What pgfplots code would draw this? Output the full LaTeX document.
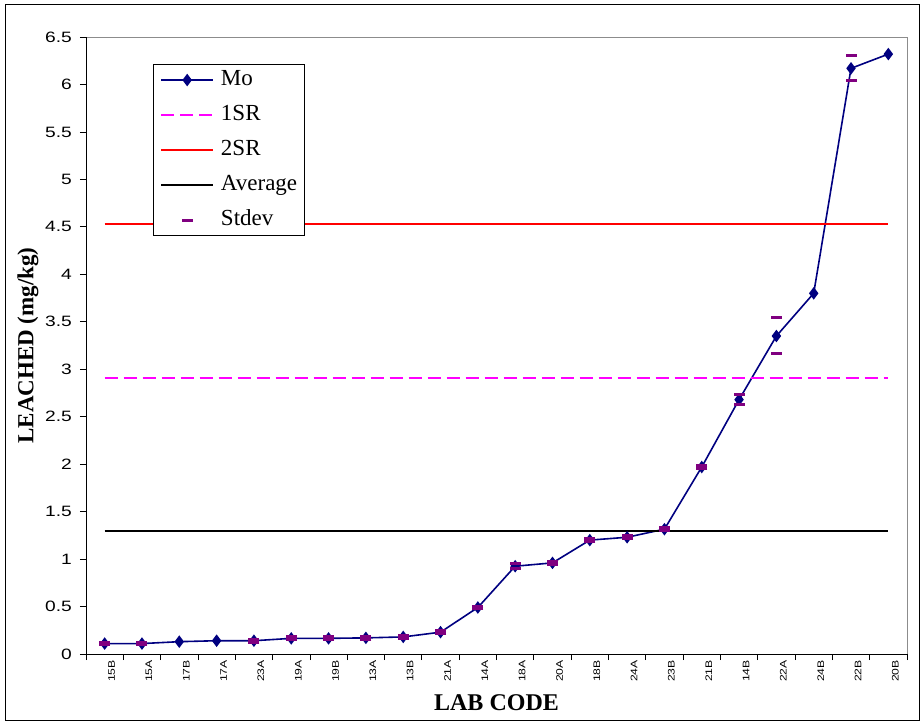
\documentclass[border=0pt]{standalone}
\usepackage{pgfplots}
\pgfplotsset{compat=1.18}
\usepackage{fontspec}
\setmainfont{Liberation Serif}
\newfontfamily\tickfont[FakeStretch=1.28]{Liberation Sans}
\definecolor{moblue}{HTML}{000080}
\definecolor{sdpurple}{HTML}{800080}
\definecolor{srmag}{HTML}{FF00FF}
\pgfplotsset{mylegimg/.style={legend image code/.code={\draw[mark repeat=2,mark phase=2,##1] plot coordinates {(0pt,0pt) (26pt,0pt) (52pt,0pt)};}}}
\begin{document}
\begin{tikzpicture}
\useasboundingbox (0pt,0pt) rectangle (923pt,-724pt);
\draw[line width=1pt] (5pt,-4pt) rectangle (919pt,-720pt);
\draw[black!45, line width=1pt] (86pt,-37pt) -- (907pt,-37pt) -- (907pt,-654pt);
\begin{axis}[
  at={(86pt,-654pt)}, anchor=south west,
  scale only axis, width=821pt, height=617pt,
  xmin=-0.5, xmax=21.5, ymin=0, ymax=6.5,
  axis x line*=bottom, axis y line*=left,
  axis line style={black, line width=0.8pt},
  ytick={0,0.5,...,6.5},
  yticklabels={0,0.5,1,1.5,2,2.5,3,3.5,4,4.5,5,5.5,6,6.5},
  xtick={0,...,21},
  xticklabels={15B,15A,17B,17A,23A,19A,19B,13A,13B,21A,14A,18A,20A,18B,24A,23B,21B,14B,22A,24B,22B,20B},
  minor xtick={-0.5,0.5,...,21.5},
  tick align=outside,
  major tick length=6pt, minor tick length=6pt,
  major x tick style={draw=none},
  tick style={black, line width=0.8pt},
  /pgf/number format/assume math mode=true,
  yticklabel style={font=\tickfont\fontsize{15}{15}\selectfont, inner sep=0pt, xshift=-8pt},
  xticklabel style={font=\tickfont\fontsize{9.5}{9.5}\selectfont, rotate=90, anchor=east, inner sep=0pt, yshift=-7pt},
  ylabel={\textbf{LEACHED (mg/kg)}},
  xlabel={\textbf{LAB CODE}},
  ylabel style={at={(axis description cs:-0.0706,0.5)}, anchor=center, font=\fontsize{23}{23}\selectfont},
  xlabel style={at={(axis description cs:0.5,-0.0794)}, anchor=center, font=\fontsize{24}{24}\selectfont},
  clip=false,
  legend cell align=left,
  mylegimg,
  legend style={at={(rel axis cs:0.0816,0.956)}, anchor=north west,
    draw=black, line width=0.8pt, fill=white,
    font=\fontsize{23}{23}\selectfont,
    inner xsep=7pt, inner ysep=4pt,
    nodes={inner sep=0pt, text height=17pt, text depth=6pt},
    column sep=7pt, row sep=12pt},
]
\addplot[moblue, line width=1.6pt, mark=diamond*, mark size=5pt, mark options={solid, fill=moblue}] coordinates {
(0,0.11) (1,0.11) (2,0.13) (3,0.14) (4,0.14) (5,0.165) (6,0.165) (7,0.17) (8,0.18) (9,0.23)
(10,0.49) (11,0.925) (12,0.96) (13,1.20) (14,1.23) (15,1.315) (16,1.97) (17,2.68) (18,3.35) (19,3.80)
(20,6.17) (21,6.32)};
\addlegendentry{Mo}
\addplot[srmag, line width=1.6pt, dash pattern=on 13pt off 6pt] coordinates {(0,2.91) (21,2.91)};
\addlegendentry{1SR}
\addplot[red, line width=1.4pt] coordinates {(0,4.53) (21,4.53)};
\addlegendentry{2SR}
\addplot[black, line width=1.4pt] coordinates {(0,1.296) (21,1.296)};
\addlegendentry{Average}
\addplot[only marks, mark=-, mark size=5.5pt, mark options={line width=3pt, sdpurple}, mylegimg] coordinates {
(0,0.125) (0,0.095) (1,0.125) (1,0.095)
(4,0.155) (4,0.125) (5,0.18) (5,0.15) (6,0.18) (6,0.15) (7,0.185) (7,0.155) (8,0.195) (8,0.165)
(9,0.245) (9,0.215) (10,0.505) (10,0.475) (11,0.95) (11,0.90) (12,0.975) (12,0.945)
(13,1.215) (13,1.185) (14,1.245) (14,1.215) (15,1.33) (15,1.30) (16,1.985) (16,1.955)
(17,2.736) (17,2.624) (18,3.55) (18,3.17) (20,6.31) (20,6.04)};
\addlegendentry{Stdev}
\end{axis}
\end{tikzpicture}
\end{document}
